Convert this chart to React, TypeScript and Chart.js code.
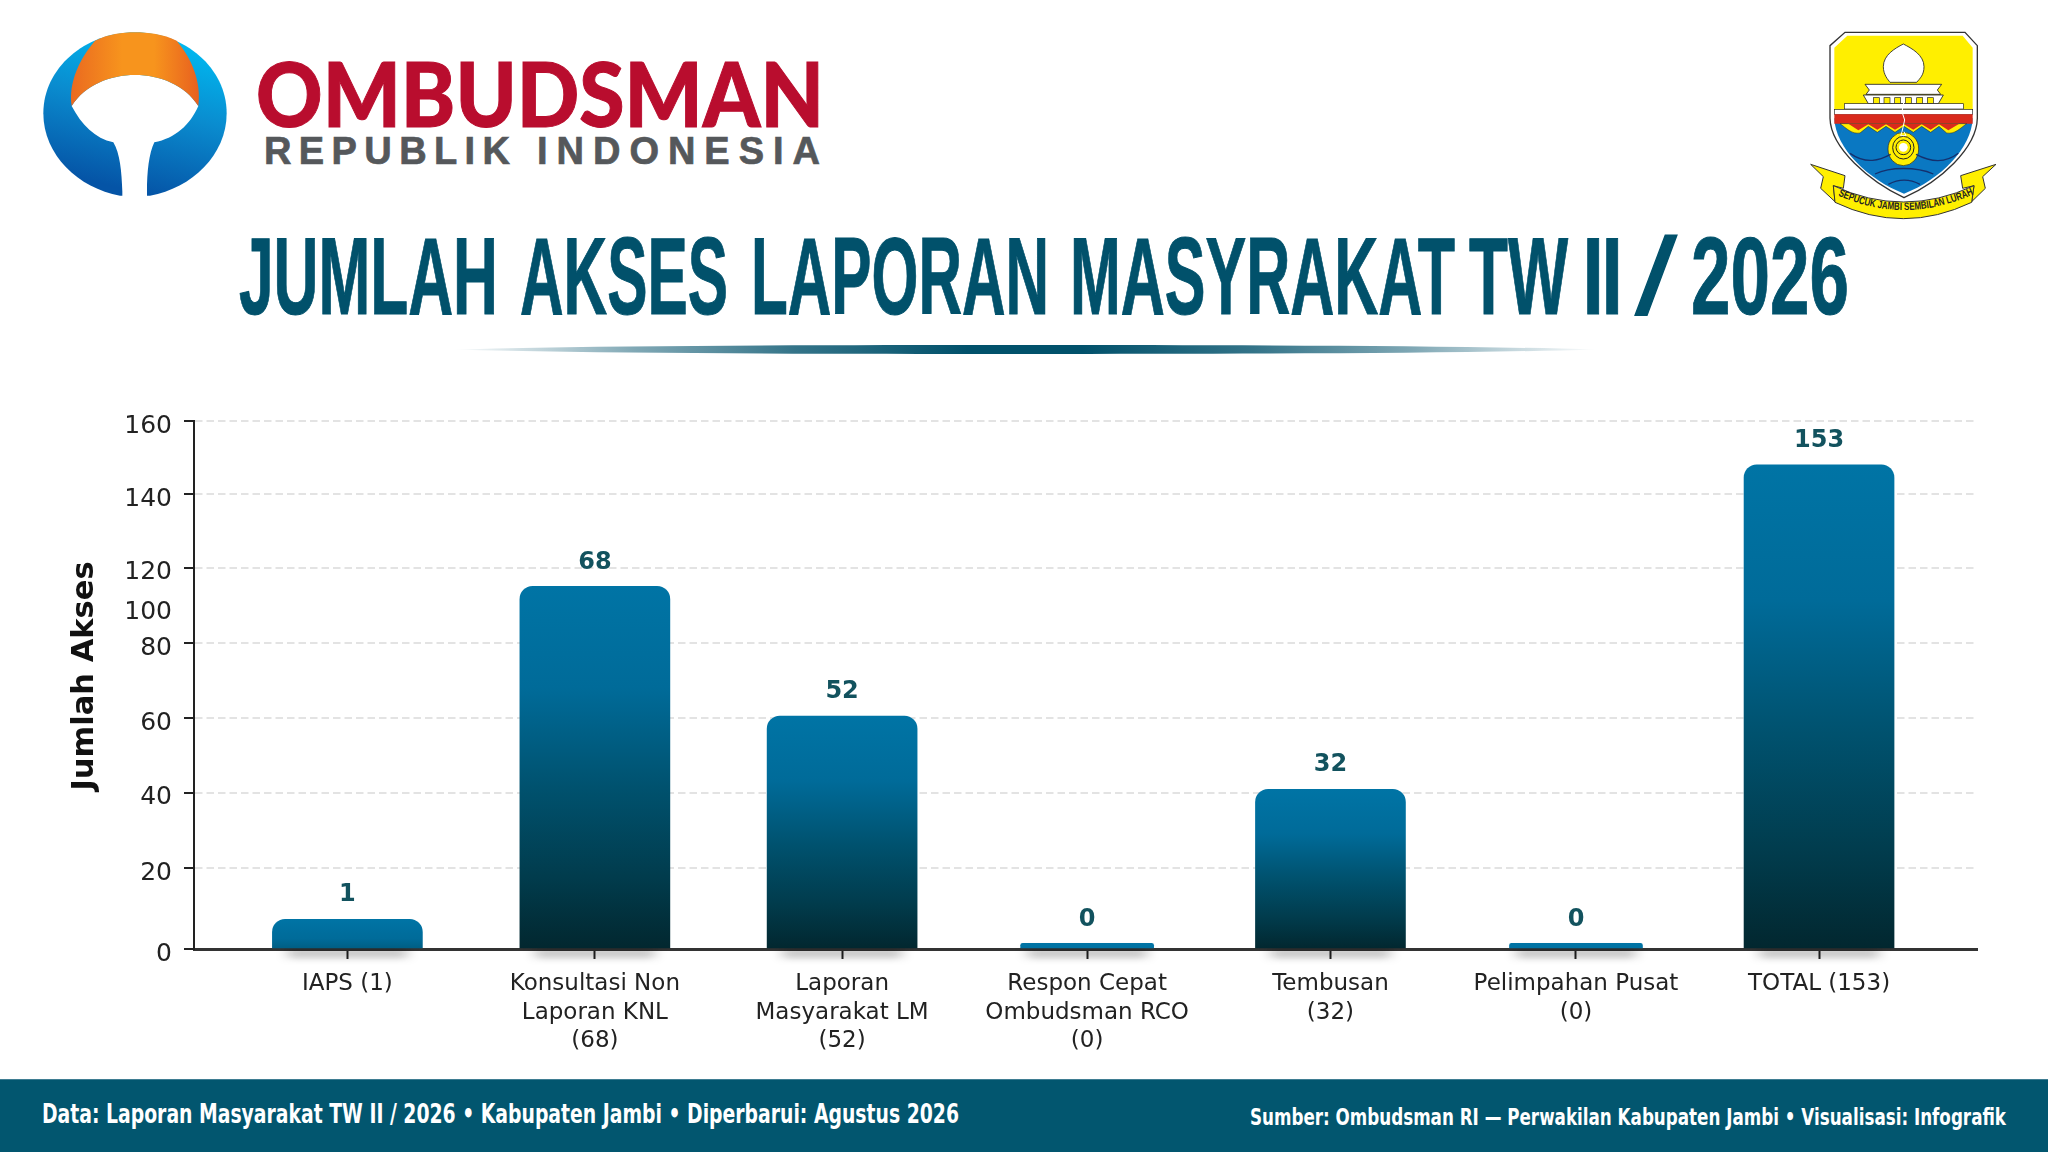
import React, { useEffect, useRef } from "react";
import { Chart, registerables, LinearScale } from "chart.js";

// ---- data ----
const categoryLines = [
  ["IAPS (1)"],
  ["Konsultasi Non", "Laporan KNL", "(68)"],
  ["Laporan", "Masyarakat LM", "(52)"],
  ["Respon Cepat", "Ombudsman RCO", "(0)"],
  ["Tembusan", "(32)"],
  ["Pelimpahan Pusat", "(0)"],
  ["TOTAL (153)"],
];
const valueLabels = ["1", "68", "52", "0", "32", "0", "153"];
// Bar heights as read against the pictured y axis (the picture's bars do not follow their labels).
const wideBarHeights = [7.4, 110.6, 60.5, null, 41, null, 148];
const slimBarHeights = [null, null, null, 1.4, null, 1.4, null];
// Slot of each category along the x axis; the pictured spacing is slightly uneven.
const categorySlots = [0, 1.009, 2.017, 3.016, 4.008, 5.009, 6];
const yAxisStops = [0, 20, 40, 60, 80, 100, 120, 140, 160];
// The pictured axis is irregular: share of the axis height reached by each stop.
const yAxisShares = [0, 0.1525, 0.2955, 0.4375, 0.5795, 0.6477, 0.7216, 0.8617, 1];

const titleWords = ["JUMLAH", "AKSES", "LAPORAN", "MASYRAKAT", "TW", "/", "2026"];
const titleWordX = [239, 520, 751, 1070, 1469, 1635, 1691];
const titleWordW = [259, 208, 298, 385, 99, 42, 158];
const yAxisTitle = "Jumlah Akses";
const footerLeft = "Data: Laporan Masyarakat TW II / 2026 • Kabupaten Jambi • Diperbarui: Agustus 2026";
const footerRight = "Sumber: Ombudsman RI — Perwakilan Kabupaten Jambi • Visualisasi: Infografik";
const ribbonText = "SEPUCUK JAMBI SEMBILAN LURAH";

const FONT = '"DejaVu Sans", sans-serif';

class PiecewiseScale extends (LinearScale as any) {
  static id = "piecewise";
  static defaults = (LinearScale as any).defaults;
  getPixelForValue(value: number) {
    if (value === null || value === undefined || isNaN(value)) return NaN;
    const v = Math.max(yAxisStops[0], Math.min(yAxisStops[yAxisStops.length - 1], value));
    let i = 0;
    while (i < yAxisStops.length - 2 && v > yAxisStops[i + 1]) i++;
    const t = (v - yAxisStops[i]) / (yAxisStops[i + 1] - yAxisStops[i]);
    const share = yAxisShares[i] + t * (yAxisShares[i + 1] - yAxisShares[i]);
    return (this as any).bottom - share * ((this as any).bottom - (this as any).top);
  }
  getValueForPixel(pixel: number) {
    const share = ((this as any).bottom - pixel) / ((this as any).bottom - (this as any).top);
    let i = 0;
    while (i < yAxisShares.length - 2 && share > yAxisShares[i + 1]) i++;
    const t = (share - yAxisShares[i]) / (yAxisShares[i + 1] - yAxisShares[i]);
    return yAxisStops[i] + t * (yAxisStops[i + 1] - yAxisStops[i]);
  }
}

Chart.register(...registerables, PiecewiseScale as any);

function barFill(ctx: any) {
  const chart = ctx.chart;
  if (!chart.chartArea || !ctx.parsed || ctx.parsed.y == null) return "#006a97";
  const yScale = chart.scales.y;
  const top = yScale.getPixelForValue(ctx.parsed.y);
  const g = chart.ctx.createLinearGradient(0, top, 0, Math.max(yScale.bottom, top + 70));
  g.addColorStop(0, "#0074a5");
  g.addColorStop(0.28, "#006b99");
  g.addColorStop(0.55, "#00526f");
  g.addColorStop(0.8, "#013c4d");
  g.addColorStop(1, "#02272f");
  return g;
}

const barExtras = {
  id: "barExtras",
  beforeDatasetsDraw(chart: any) {
    const { ctx } = chart;
    const base = chart.scales.y.bottom;
    ctx.save();
    ctx.filter = "blur(4px)";
    ctx.fillStyle = "rgba(0,0,0,0.2)";
    chart.data.datasets.forEach((_: any, d: number) => {
      chart.getDatasetMeta(d).data.forEach((bar: any) => {
        if (bar.skip || !isFinite(bar.y)) return;
        ctx.fillRect(bar.x - bar.width / 2 + 11, base + 1, bar.width - 22, 6);
      });
    });
    ctx.restore();
  },
  afterDatasetsDraw(chart: any) {
    const { ctx } = chart;
    ctx.save();
    ctx.font = `bold 24px ${FONT}`;
    ctx.fillStyle = "#12525e";
    ctx.textAlign = "center";
    ctx.textBaseline = "middle";
    valueLabels.forEach((label, i) => {
      const d = wideBarHeights[i] !== null ? 0 : 1;
      const bar = chart.getDatasetMeta(d).data[i];
      ctx.fillText(label, bar.x, bar.y - 24);
    });
    ctx.restore();
    ctx.save();
    ctx.translate(85, 676);
    ctx.rotate(-Math.PI / 2);
    ctx.font = `bold 30.5px ${FONT}`;
    ctx.fillStyle = "#111";
    ctx.textAlign = "center";
    ctx.textBaseline = "middle";
    ctx.fillText(yAxisTitle, 0, 0);
    ctx.restore();
  },
};

function OmbudsmanLogo() {
  return (
    <g>
      <svg x={35} y={25} width={200} height={180} viewBox="0 0 600 540">
        <defs>
          <linearGradient id="logoBlue" x1="0.65" y1="0.05" x2="0.4" y2="0.95">
            <stop offset="0" stopColor="#00b7ef" />
            <stop offset="0.45" stopColor="#0a8ccf" />
            <stop offset="1" stopColor="#0554a6" />
          </linearGradient>
          <linearGradient id="logoOrange" x1="0" y1="0" x2="1" y2="0">
            <stop offset="0" stopColor="#ea6a20" />
            <stop offset="0.4" stopColor="#f7941d" />
            <stop offset="0.65" stopColor="#f7941d" />
            <stop offset="1" stopColor="#e8601f" />
          </linearGradient>
        </defs>
        <path
          d="M255 512 C130 490 25 390 25 265 C25 130 150 22 300 22 C450 22 575 130 575 265 C575 390 470 490 345 512 Z"
          fill="url(#logoBlue)"
        />
        <path
          d="M262 540 L262 500 C260 440 255 385 235 352 C180 340 140 300 110 243 C150 180 225 150 300 150 C375 150 450 180 490 243 C465 300 420 340 358 352 C342 385 336 440 336 500 L336 540 Z"
          fill="#fff"
        />
        <path
          d="M180 47 C220 28 260 22 300 22 C340 22 385 28 425 47 C470 100 500 170 490 243 C450 180 375 150 300 150 C225 150 150 180 110 243 C100 170 135 100 180 47 Z"
          fill="url(#logoOrange)"
        />
      </svg>
      <text x={256} y={127} textLength={568} lengthAdjust="spacingAndGlyphs" fontFamily="Lato, 'Liberation Sans', sans-serif" fontWeight={900} fontSize={90} fill="#b90d2e" stroke="#b90d2e" strokeWidth={1}>OMBUDSMAN</text>
      <text y={164} fontFamily="'Liberation Sans', sans-serif" fontWeight={700} fontSize={38} fill="#55585b" stroke="#55585b" strokeWidth={0.7}>
        <tspan x={264} textLength={246} lengthAdjust="spacing">REPUBLIK</tspan>{" "}
        <tspan x={537} textLength={283} lengthAdjust="spacing">INDONESIA</tspan>
      </text>
    </g>
  );
}

function JambiEmblem() {
  const windows = [220, 252, 284, 316, 350, 382];
  return (
    <svg x={1800} y={25} width={205} height={200} viewBox="0 0 615 600">
      <defs>
        <path id="ribbonPath" d="M110 510 Q310 600 516 510" />
      </defs>
      {/* ribbon tails */}
      <path d="M32 418 L135 452 L130 490 L100 482 L105 530 L62 490 L70 455 Z" fill="#ffef00" stroke="#333" strokeWidth={3} />
      <path d="M588 418 L482 452 L488 490 L522 482 L515 530 L556 490 L548 455 Z" fill="#ffef00" stroke="#333" strokeWidth={3} />
      {/* shield */}
      <path d="M135 22 L495 22 L532 62 L532 280 C530 370 420 470 312 518 C210 470 92 370 90 280 L90 62 Z" fill="#fff" stroke="#333" strokeWidth={4} />
      <path d="M103 280 C106 370 205 465 312 506 C420 465 515 370 518 280 Z" fill="#0a78c2" />
      <path d="M142 32 L488 32 L518 68 L518 256 L103 256 L103 68 Z" fill="#ffef00" />
      <path d="M310 57 C285 70 250 90 250 125 C250 150 265 165 270 172 L350 172 C360 160 372 150 372 125 C372 90 335 70 310 57 Z" fill="#fff" stroke="#222" strokeWidth={2.5} />
      <path d="M195 178 L425 178 L412 195 L422 208 L198 208 L208 195 Z" fill="#fff" stroke="#222" strokeWidth={2.5} />
      <path d="M190 210 L430 210 L415 236 L205 236 Z" fill="#fff" stroke="#222" strokeWidth={2.5} />
      {windows.map((x) => (
        <rect key={x} x={x} y={218} width={18} height={18} fill="#ffef00" stroke="#222" strokeWidth={2} />
      ))}
      <rect x={133} y={236} width={357} height={16} fill="#fff" stroke="#222" strokeWidth={2} />
      <rect x={103} y={253} width={415} height={15} fill="#fff" stroke="#222" strokeWidth={2} />
      <path d="M103 268 L518 268 L518 296 L103 296 Z" fill="#d92a1c" />
      <path d="M120 296 L500 296 C480 310 465 328 440 324 L417 304 L392 322 L365 304 L340 322 L312 304 L285 322 L258 304 L232 322 L205 304 L180 324 C155 328 140 310 120 296 Z" fill="#ffef00" stroke="#222" strokeWidth={1.5} />
      <path d="M145 296 L478 296 L445 316 L417 298 L392 314 L365 298 L340 314 L312 298 L285 314 L258 298 L232 314 L205 298 L175 316 Z" fill="#d92a1c" />
      <ellipse cx={310} cy={372} rx={46} ry={50} fill="#ffef00" stroke="#222" strokeWidth={2} />
      <ellipse cx={310} cy={368} rx={32} ry={34} fill="none" stroke="#222" strokeWidth={3} />
      <circle cx={310} cy={367} r={22} fill="#ffef00" stroke="#222" strokeWidth={3} />
      <circle cx={310} cy={367} r={13} fill="#fff" />
      <path d="M312 228 L306 260 L314 285 L306 320 L302 332 L318 332 L312 320" fill="none" stroke="#fff" strokeWidth={3} />
      <g fill="none" stroke="#14306e" strokeWidth={4}>
        <path d="M150 385 C200 420 240 405 272 388" />
        <path d="M348 388 C380 405 430 420 475 385" />
        <path d="M225 447 C270 425 350 425 400 447" />
        <path d="M265 478 C295 462 330 462 360 478" />
      </g>
      {/* ribbon band */}
      <path d="M100 482 Q310 580 522 482 L515 532 Q310 630 105 532 Z" fill="#ffef00" stroke="#333" strokeWidth={3} />
      <text fontFamily="'Liberation Sans Narrow', 'Liberation Sans', sans-serif" fontWeight={700} fontSize={32} fill="#222">
        <textPath href="#ribbonPath" startOffset="4" textLength={420} lengthAdjust="spacingAndGlyphs">{ribbonText}</textPath>
      </text>
    </svg>
  );
}

function Backdrop() {
  return (
    <svg width={2048} height={1152} style={{ position: "absolute", left: 0, top: 0 }}>
      <defs>
        <linearGradient id="rule" x1="0" y1="0" x2="1" y2="0">
          <stop offset="0" stopColor="#01516b" stopOpacity={0} />
          <stop offset="0.16" stopColor="#01516b" stopOpacity={0.5} />
          <stop offset="0.3" stopColor="#01516b" stopOpacity={0.8} />
          <stop offset="0.45" stopColor="#01516b" />
          <stop offset="0.55" stopColor="#01516b" />
          <stop offset="0.7" stopColor="#01516b" stopOpacity={0.8} />
          <stop offset="0.84" stopColor="#01516b" stopOpacity={0.5} />
          <stop offset="1" stopColor="#01516b" stopOpacity={0} />
        </linearGradient>
      </defs>
      <rect width={2048} height={1152} fill="#fff" />
      <OmbudsmanLogo />
      <JambiEmblem />
      <text y={314} fontFamily="'Liberation Sans Narrow', 'Liberation Sans', sans-serif" fontWeight={700} fontSize={110} fill="#01516b" stroke="#01516b" strokeWidth={1}>
        {titleWords.slice(0, 5).map((word, i) => (
          <React.Fragment key={i}>
            <tspan x={titleWordX[i]} textLength={titleWordW[i]} lengthAdjust="spacingAndGlyphs">{word}</tspan>{" "}
          </React.Fragment>
        ))}
        <tspan x={1582.4} textLength={21.4} lengthAdjust="spacingAndGlyphs">I</tspan><tspan x={1601.4} textLength={21.4} lengthAdjust="spacingAndGlyphs">I</tspan>{" "}
        <tspan x={titleWordX[5]} textLength={titleWordW[5]} lengthAdjust="spacingAndGlyphs" fontWeight={400}>{titleWords[5]}</tspan>{" "}
        <tspan x={titleWordX[6]} textLength={titleWordW[6]} lengthAdjust="spacingAndGlyphs">{titleWords[6]}</tspan>
      </text>
      <path d="M451 349.5 C600 345.5 800 345 1024 345 C1250 345 1450 345.5 1598 349.5 C1450 353.5 1250 354 1024 354 C800 354 600 353.5 451 349.5 Z" fill="url(#rule)" />
      <rect x={0} y={1079} width={2048} height={73} fill="#02566f" />
      <rect x={0} y={1079} width={2048} height={1} fill="#3f7d92" />
      <text x={42} y={1123} textLength={917} lengthAdjust="spacingAndGlyphs" fontFamily={FONT} fontWeight={700} fontSize={26} fill="#fff">{footerLeft}</text>
      <text x={1250} y={1125} textLength={756} lengthAdjust="spacingAndGlyphs" fontFamily={FONT} fontWeight={700} fontSize={23} fill="#fff">{footerRight}</text>
    </svg>
  );
}

export default function App() {
  const ref = useRef<HTMLCanvasElement>(null);
  useEffect(() => {
    const chart = new Chart(ref.current as any, {
      type: "bar",
      data: {
        labels: categorySlots as any,
        datasets: [
          { data: wideBarHeights as any, barThickness: 150, backgroundColor: barFill as any, borderSkipped: "bottom", borderRadius: { topLeft: 13, topRight: 13, bottomLeft: 0, bottomRight: 0 } as any },
          { data: slimBarHeights as any, barThickness: 133, backgroundColor: barFill as any, borderSkipped: "bottom", borderRadius: { topLeft: 6, topRight: 6, bottomLeft: 0, bottomRight: 0 } as any },
        ],
      },
      options: {
        animation: false,
        responsive: false,
        grouped: false,
        layout: { padding: { left: 0, top: 421, right: 71, bottom: 0 } },
        plugins: { legend: { display: false }, tooltip: { enabled: false }, title: { display: false } },
        scales: {
          x: {
            type: "linear",
            offset: false,
            min: -0.6254,
            max: 6.644,
            afterBuildTicks: (s: any) => { s.ticks = categorySlots.map((value) => ({ value })); },
            afterFit: (s: any) => { s.height = 203; },
            grid: { offset: false, drawOnChartArea: false, drawTicks: true, tickLength: 10, tickColor: "#222", tickWidth: 2 },
            border: { color: "#333", width: 3 },
            ticks: {
              autoSkip: false,
              maxRotation: 0,
              minRotation: 0,
              padding: 11,
              color: "#222",
              font: { family: FONT, size: 23, lineHeight: 1.24 },
              callback: (_v: any, i: number) => categoryLines[i] ?? "",
            },
          } as any,
          y: {
            type: "piecewise",
            min: 0,
            max: 160,
            afterFit: (s: any) => { s.width = 194; },
            grid: {
              color: (c: any) => (c.tick && (c.tick.value === 0 || c.tick.value === 100) ? "rgba(0,0,0,0)" : "#e3e3e3"),
              tickColor: (c: any) => (c.tick && c.tick.value === 100 ? "rgba(0,0,0,0)" : "#222"),
              lineWidth: 2,
              tickWidth: 2,
              tickLength: 10,
            },
            border: { color: "#222", width: 2, dash: [7.5, 4] },
            ticks: { stepSize: 20, padding: 12, labelOffset: 5, color: "#222", font: { family: FONT, size: 25 } },
          } as any,
        },
      } as any,
      plugins: [barExtras],
    });
    return () => chart.destroy();
  }, []);
  return (
    <div style={{ position: "absolute", left: 0, top: 0, width: 2048, height: 1152, overflow: "hidden", background: "#fff" }}>
      <Backdrop />
      <canvas ref={ref} width={2048} height={1152} style={{ position: "absolute", left: 0, top: 0 }} />
    </div>
  );
}
